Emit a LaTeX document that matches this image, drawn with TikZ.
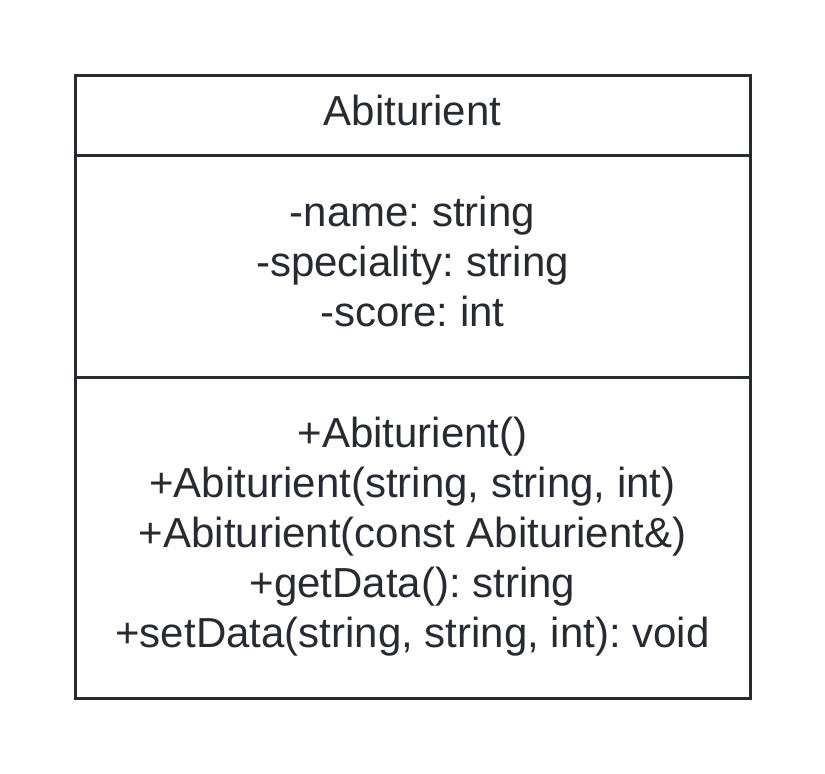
\documentclass[tikz,border=0pt]{standalone}
\usepackage{fontspec}
\setmainfont{Liberation Sans}
\usepackage{xcolor}
\definecolor{encre}{HTML}{272A30}
\frenchspacing

\begin{document}
\begin{tikzpicture}[x=1pt,y=-1pt]
    % cadre de la page
    \useasboundingbox (0,0) rectangle (825,774);
\begin{scope}[line width=3pt, encre]
    \draw (75,75) rectangle (750,698);
    \draw (75,155) -- (750,155);
    \draw (75,377) -- (750,377);
\end{scope}
\begin{scope}[every node/.style={text=encre, align=center, inner sep=0pt, font=\fontsize{42}{50}\selectfont}]
    \node (nom) at (412.5,110) {Abiturient};
    \node (attributs) at (412.5,261) {-name: string\\-speciality: string\\-score: int};
    \node (methodes) at (412.5,537) {+Abiturient()\\+Abiturient(string, string, int)\\+Abiturient(const Abiturient\&)\\+getData(): string\\+setData(string, string, int): void};
\end{scope}
\end{tikzpicture}
\end{document}
